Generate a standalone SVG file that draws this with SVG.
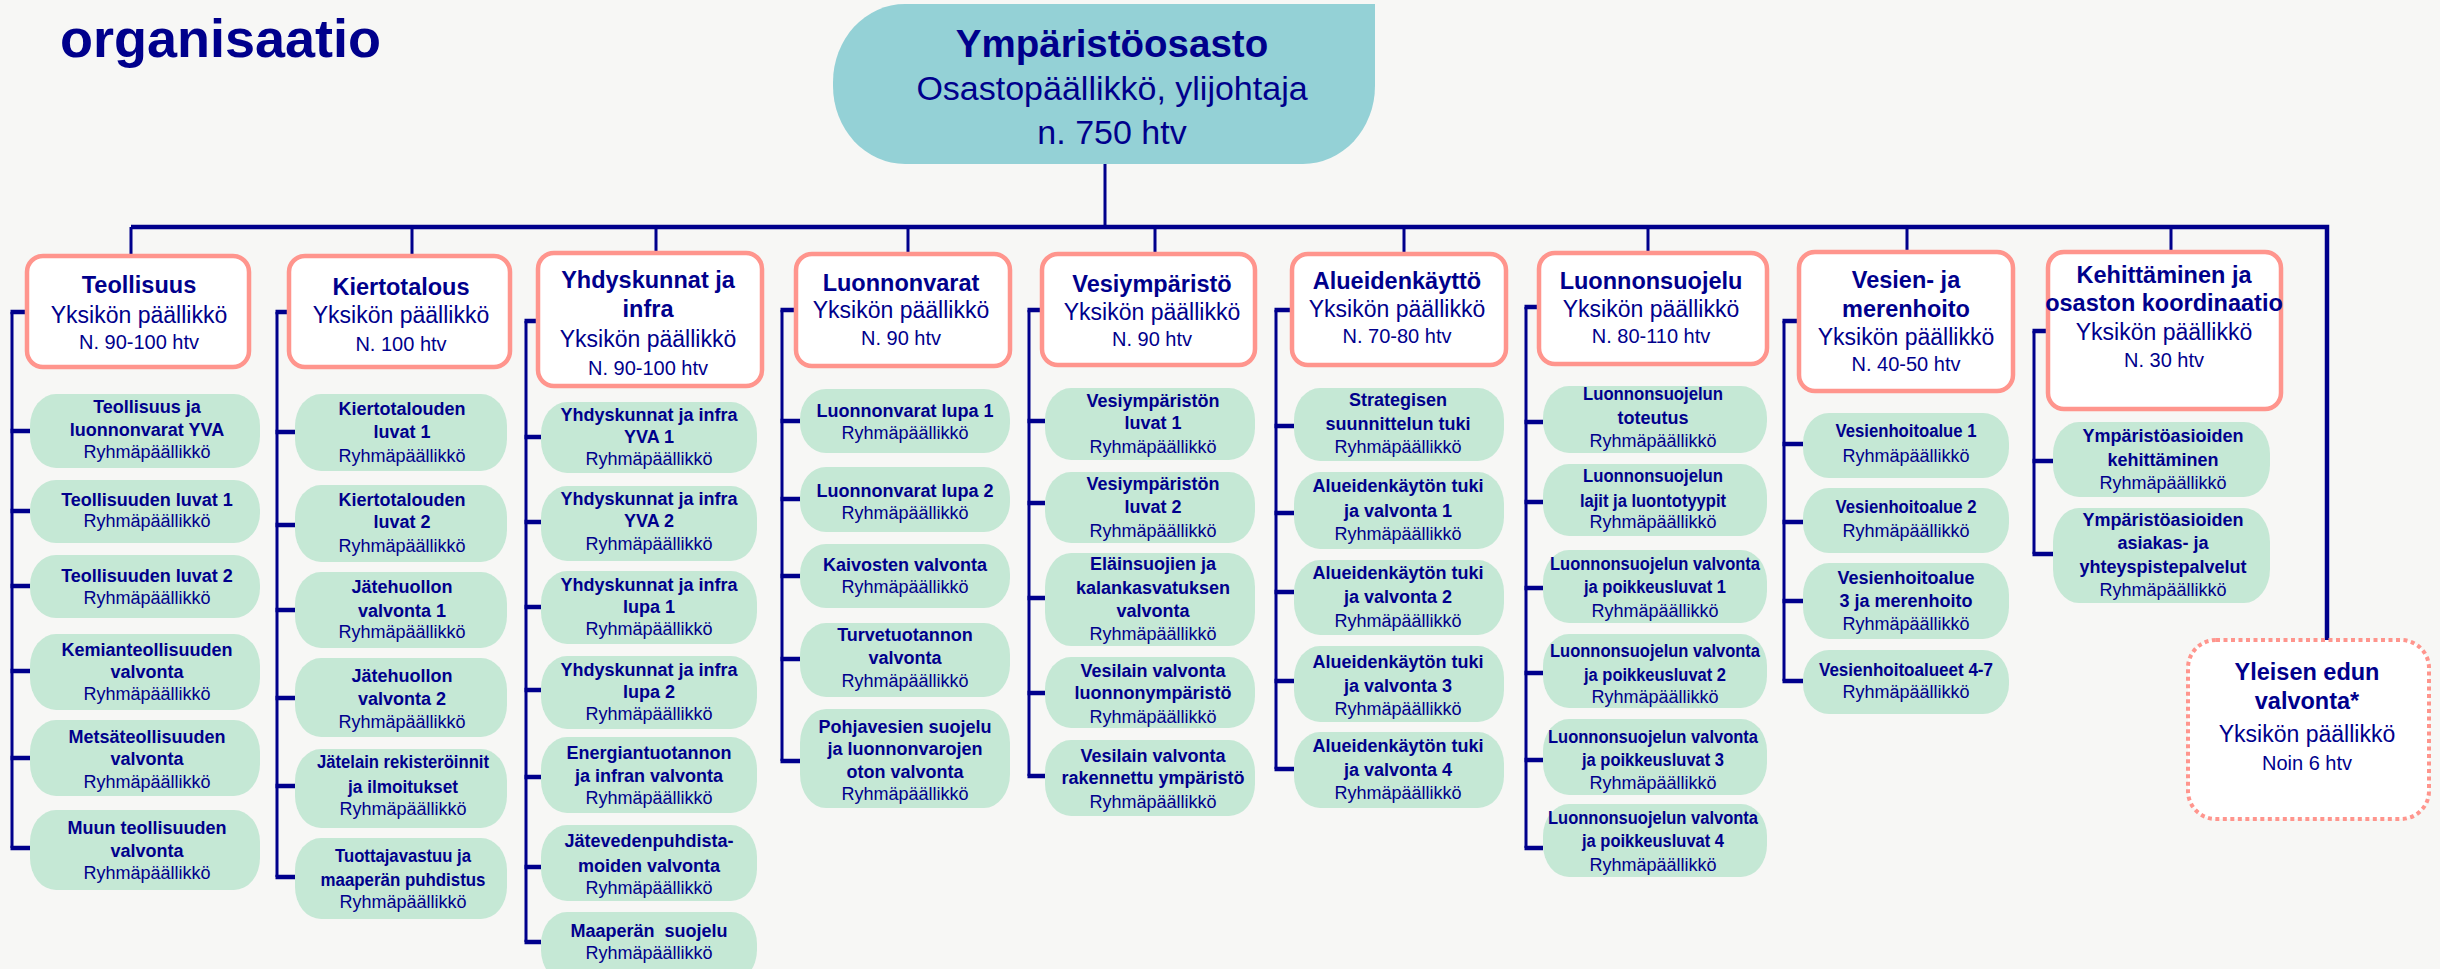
<svg xmlns="http://www.w3.org/2000/svg" width="2440" height="969" viewBox="0 0 2440 969">
<style>
.bg{fill:#f7f7f5}
.top{fill:#94d1d6}
.u{fill:#fff;stroke:#ff958d;stroke-width:4.5}
.d{fill:#fff;stroke:#ff958d;stroke-width:4;stroke-dasharray:4 3.5}
.c{fill:#c5e8d5}
text{font-family:"Liberation Sans",Arial,sans-serif;fill:#00008c;text-anchor:middle}
.title{font-size:54px;font-weight:700;text-anchor:start}
.t1{font-size:38.5px;font-weight:700}
.t2{font-size:34px}
.b{font-size:18px;font-weight:700}
.r{font-size:18px}
.ut{font-size:23.5px;font-weight:700}
.us{font-size:23px}
.uh{font-size:20px}
.ln{fill:none;stroke:#00008c}
.bar{stroke-width:4.5}
.v{stroke-width:3}
.s{stroke-width:4.5}
</style>
<rect class="bg" x="0" y="0" width="2440" height="969"/>
<text class="title" x="60" y="57">organisaatio</text>

<g id="connectors">
<path class="ln bar" d="M131,227H2327V640"/>
<path class="ln v" d="M1105,164V227 M131,227V256 M412,227V256 M656,227V253 M908,227V254 M1155,227V254 M1404,227V254 M1648,227V253 M1907,227V252 M2171,227V252"/>
<path class="ln v" d="M12,312V848 M277,312V877 M526,321V942 M782,310V761 M1029,310V776 M1276,310V769 M1526,307V848 M1784,321V681 M2034,331V554"/>
<path class="ln s" d="M10.5,312H27 M10.5,431H30 M10.5,511H30 M10.5,586H30 M10.5,671H30 M10.5,758H30 M10.5,848H30"/>
<path class="ln s" d="M275.5,312H289 M275.5,432H295 M275.5,525H295 M275.5,610H295 M275.5,698H295 M275.5,786H295 M275.5,877H295"/>
<path class="ln s" d="M524.5,321H538 M524.5,437H541 M524.5,522H541 M524.5,607H541 M524.5,690H541 M524.5,777H541 M524.5,867H541 M524.5,942H541"/>
<path class="ln s" d="M780.5,310H796 M780.5,421H800 M780.5,499H800 M780.5,576H800 M780.5,659H800 M780.5,761H800"/>
<path class="ln s" d="M1027.5,310H1042 M1027.5,421H1045 M1027.5,503H1045 M1027.5,598H1045 M1027.5,693H1045 M1027.5,776H1045"/>
<path class="ln s" d="M1274.5,310H1292 M1274.5,426H1294 M1274.5,513H1294 M1274.5,592H1294 M1274.5,681H1294 M1274.5,769H1294"/>
<path class="ln s" d="M1524.5,307H1539 M1524.5,422H1543 M1524.5,502H1543 M1524.5,588H1543 M1524.5,673H1543 M1524.5,760H1543 M1524.5,848H1543"/>
<path class="ln s" d="M1782.5,321H1799 M1782.5,444H1803 M1782.5,522H1803 M1782.5,601H1803 M1782.5,681H1803"/>
<path class="ln s" d="M2032.5,331H2048 M2032.5,461H2053 M2032.5,554H2053"/>
</g>

<g id="osasto">
<path class="top" d="M905,4H1375V86A72,78 0 0 1 1303,164H905A72,78 0 0 1 833,86V82A72,78 0 0 1 905,4Z"/>
<text class="t1" x="1112" y="57">Ympäristöosasto</text>
<text class="t2" x="1112" y="100">Osastopäällikkö, ylijohtaja</text>
<text class="t2" x="1112" y="144">n. 750 htv</text>
</g>

<g id="u-teollisuus">
<rect class="u" x="27" y="256" width="222" height="111" rx="16"/>
<text class="ut" x="139" y="293">Teollisuus</text>
<text class="us" x="139" y="323">Yksikön päällikkö</text>
<text class="uh" x="139" y="349">N. 90-100 htv</text>
</g>
<g id="u-kiertotalous">
<rect class="u" x="289" y="256" width="221" height="111" rx="16"/>
<text class="ut" x="401" y="295">Kiertotalous</text>
<text class="us" x="401" y="323">Yksikön päällikkö</text>
<text class="uh" x="401" y="351">N. 100 htv</text>
</g>
<g id="u-yhdyskunnat">
<rect class="u" x="538" y="253" width="224" height="133" rx="16"/>
<text class="ut" x="648" y="288">Yhdyskunnat ja</text>
<text class="ut" x="648" y="317">infra</text>
<text class="us" x="648" y="347">Yksikön päällikkö</text>
<text class="uh" x="648" y="375">N. 90-100 htv</text>
</g>
<g id="u-luonnonvarat">
<rect class="u" x="796" y="254" width="214" height="112" rx="16"/>
<text class="ut" x="901" y="291">Luonnonvarat</text>
<text class="us" x="901" y="318">Yksikön päällikkö</text>
<text class="uh" x="901" y="345">N. 90 htv</text>
</g>
<g id="u-vesiymparisto">
<rect class="u" x="1042" y="254" width="213" height="111" rx="16"/>
<text class="ut" x="1152" y="292">Vesiympäristö</text>
<text class="us" x="1152" y="320">Yksikön päällikkö</text>
<text class="uh" x="1152" y="346">N. 90 htv</text>
</g>
<g id="u-alueidenkaytto">
<rect class="u" x="1292" y="254" width="214" height="111" rx="16"/>
<text class="ut" x="1397" y="289">Alueidenkäyttö</text>
<text class="us" x="1397" y="317">Yksikön päällikkö</text>
<text class="uh" x="1397" y="343">N. 70-80 htv</text>
</g>
<g id="u-luonnonsuojelu">
<rect class="u" x="1539" y="253" width="228" height="111" rx="16"/>
<text class="ut" x="1651" y="289">Luonnonsuojelu</text>
<text class="us" x="1651" y="317">Yksikön päällikkö</text>
<text class="uh" x="1651" y="343">N. 80-110 htv</text>
</g>
<g id="u-vesienhoito">
<rect class="u" x="1799" y="252" width="214" height="139" rx="16"/>
<text class="ut" x="1906" y="288">Vesien- ja</text>
<text class="ut" x="1906" y="317">merenhoito</text>
<text class="us" x="1906" y="345">Yksikön päällikkö</text>
<text class="uh" x="1906" y="371">N. 40-50 htv</text>
</g>
<g id="u-kehittaminen">
<rect class="u" x="2048" y="252" width="233" height="157" rx="16"/>
<text class="ut" x="2164" y="283">Kehittäminen ja</text>
<text class="ut" x="2164" y="311">osaston koordinaatio</text>
<text class="us" x="2164" y="340">Yksikön päällikkö</text>
<text class="uh" x="2164" y="367">N. 30 htv</text>
</g>
<g id="u-yleisen-edun">
<rect class="d" x="2188" y="640" width="241" height="179" rx="28"/>
<text class="ut" x="2307" y="680">Yleisen edun</text>
<text class="ut" x="2307" y="709">valvonta*</text>
<text class="us" x="2307" y="742">Yksikön päällikkö</text>
<text class="uh" x="2307" y="770">Noin 6 htv</text>
</g>

<g id="teo-1"><rect class="c" x="30" y="394" width="230" height="74" rx="26" ry="32"/>
<text class="b" x="147" y="413">Teollisuus ja</text><text class="b" x="147" y="436">luonnonvarat YVA</text><text class="r" x="147" y="458">Ryhmäpäällikkö</text></g>
<g id="teo-2"><rect class="c" x="30" y="480" width="230" height="63" rx="26" ry="30"/>
<text class="b" x="147" y="506">Teollisuuden luvat 1</text><text class="r" x="147" y="527">Ryhmäpäällikkö</text></g>
<g id="teo-3"><rect class="c" x="30" y="555" width="230" height="63" rx="26" ry="30"/>
<text class="b" x="147" y="582">Teollisuuden luvat 2</text><text class="r" x="147" y="604">Ryhmäpäällikkö</text></g>
<g id="teo-4"><rect class="c" x="30" y="634" width="230" height="76" rx="26" ry="32"/>
<text class="b" x="147" y="656">Kemianteollisuuden</text><text class="b" x="147" y="678">valvonta</text><text class="r" x="147" y="700">Ryhmäpäällikkö</text></g>
<g id="teo-5"><rect class="c" x="30" y="720" width="230" height="76" rx="26" ry="32"/>
<text class="b" x="147" y="743">Metsäteollisuuden</text><text class="b" x="147" y="765">valvonta</text><text class="r" x="147" y="788">Ryhmäpäällikkö</text></g>
<g id="teo-6"><rect class="c" x="30" y="810" width="230" height="80" rx="26" ry="32"/>
<text class="b" x="147" y="834">Muun teollisuuden</text><text class="b" x="147" y="857">valvonta</text><text class="r" x="147" y="879">Ryhmäpäällikkö</text></g>

<g id="kie-1"><rect class="c" x="295" y="394" width="212" height="77" rx="26" ry="32"/>
<text class="b" x="402" y="415">Kiertotalouden</text><text class="b" x="402" y="438">luvat 1</text><text class="r" x="402" y="462">Ryhmäpäällikkö</text></g>
<g id="kie-2"><rect class="c" x="295" y="485" width="212" height="77" rx="26" ry="32"/>
<text class="b" x="402" y="506">Kiertotalouden</text><text class="b" x="402" y="528">luvat 2</text><text class="r" x="402" y="552">Ryhmäpäällikkö</text></g>
<g id="kie-3"><rect class="c" x="295" y="572" width="212" height="76" rx="26" ry="32"/>
<text class="b" x="402" y="593">Jätehuollon</text><text class="b" x="402" y="617">valvonta 1</text><text class="r" x="402" y="638">Ryhmäpäällikkö</text></g>
<g id="kie-4"><rect class="c" x="295" y="658" width="212" height="79" rx="26" ry="32"/>
<text class="b" x="402" y="682">Jätehuollon</text><text class="b" x="402" y="705">valvonta 2</text><text class="r" x="402" y="728">Ryhmäpäällikkö</text></g>
<g id="kie-5"><rect class="c" x="295" y="749" width="212" height="79" rx="26" ry="32"/>
<text class="b" x="403" y="768" textLength="172" lengthAdjust="spacingAndGlyphs">Jätelain rekisteröinnit</text><text class="b" x="403" y="793" textLength="110" lengthAdjust="spacingAndGlyphs">ja ilmoitukset</text><text class="r" x="403" y="815">Ryhmäpäällikkö</text></g>
<g id="kie-6"><rect class="c" x="295" y="838" width="212" height="81" rx="26" ry="32"/>
<text class="b" x="403" y="862" textLength="136" lengthAdjust="spacingAndGlyphs">Tuottajavastuu ja</text><text class="b" x="403" y="886" textLength="165" lengthAdjust="spacingAndGlyphs">maaperän puhdistus</text><text class="r" x="403" y="908">Ryhmäpäällikkö</text></g>

<g id="yhd-1"><rect class="c" x="541" y="402" width="216" height="71" rx="26" ry="32"/>
<text class="b" x="649" y="421">Yhdyskunnat ja infra</text><text class="b" x="649" y="443">YVA 1</text><text class="r" x="649" y="465">Ryhmäpäällikkö</text></g>
<g id="yhd-2"><rect class="c" x="541" y="486" width="216" height="75" rx="26" ry="32"/>
<text class="b" x="649" y="505">Yhdyskunnat ja infra</text><text class="b" x="649" y="527">YVA 2</text><text class="r" x="649" y="550">Ryhmäpäällikkö</text></g>
<g id="yhd-3"><rect class="c" x="541" y="571" width="216" height="73" rx="26" ry="32"/>
<text class="b" x="649" y="591">Yhdyskunnat ja infra</text><text class="b" x="649" y="613">lupa 1</text><text class="r" x="649" y="635">Ryhmäpäällikkö</text></g>
<g id="yhd-4"><rect class="c" x="541" y="656" width="216" height="73" rx="26" ry="32"/>
<text class="b" x="649" y="676">Yhdyskunnat ja infra</text><text class="b" x="649" y="698">lupa 2</text><text class="r" x="649" y="720">Ryhmäpäällikkö</text></g>
<g id="yhd-5"><rect class="c" x="541" y="737" width="216" height="76" rx="26" ry="32"/>
<text class="b" x="649" y="759">Energiantuotannon</text><text class="b" x="649" y="782">ja infran valvonta</text><text class="r" x="649" y="804">Ryhmäpäällikkö</text></g>
<g id="yhd-6"><rect class="c" x="541" y="825" width="216" height="76" rx="26" ry="32"/>
<text class="b" x="649" y="847">Jätevedenpuhdista-</text><text class="b" x="649" y="872">moiden valvonta</text><text class="r" x="649" y="894">Ryhmäpäällikkö</text></g>
<g id="yhd-7"><rect class="c" x="541" y="912" width="216" height="70" rx="26" ry="32"/>
<text class="b" x="649" y="937" style="white-space:pre">Maaperän  suojelu</text><text class="r" x="649" y="959">Ryhmäpäällikkö</text></g>

<g id="lva-1"><rect class="c" x="800" y="389" width="210" height="64" rx="26" ry="30"/>
<text class="b" x="905" y="417">Luonnonvarat lupa 1</text><text class="r" x="905" y="439">Ryhmäpäällikkö</text></g>
<g id="lva-2"><rect class="c" x="800" y="467" width="210" height="65" rx="26" ry="30"/>
<text class="b" x="905" y="497">Luonnonvarat lupa 2</text><text class="r" x="905" y="519">Ryhmäpäällikkö</text></g>
<g id="lva-3"><rect class="c" x="800" y="544" width="210" height="64" rx="26" ry="30"/>
<text class="b" x="905" y="571">Kaivosten valvonta</text><text class="r" x="905" y="593">Ryhmäpäällikkö</text></g>
<g id="lva-4"><rect class="c" x="800" y="623" width="210" height="74" rx="26" ry="32"/>
<text class="b" x="905" y="641">Turvetuotannon</text><text class="b" x="905" y="664">valvonta</text><text class="r" x="905" y="687">Ryhmäpäällikkö</text></g>
<g id="lva-5"><rect class="c" x="800" y="709" width="210" height="99" rx="26" ry="34"/>
<text class="b" x="905" y="733">Pohjavesien suojelu</text><text class="b" x="905" y="755">ja luonnonvarojen</text><text class="b" x="905" y="778">oton valvonta</text><text class="r" x="905" y="800">Ryhmäpäällikkö</text></g>

<g id="ves-1"><rect class="c" x="1045" y="388" width="210" height="72" rx="26" ry="32"/>
<text class="b" x="1153" y="407">Vesiympäristön</text><text class="b" x="1153" y="429">luvat 1</text><text class="r" x="1153" y="453">Ryhmäpäällikkö</text></g>
<g id="ves-2"><rect class="c" x="1045" y="472" width="210" height="71" rx="26" ry="32"/>
<text class="b" x="1153" y="490">Vesiympäristön</text><text class="b" x="1153" y="513">luvat 2</text><text class="r" x="1153" y="537">Ryhmäpäällikkö</text></g>
<g id="ves-3"><rect class="c" x="1045" y="553" width="210" height="93" rx="26" ry="34"/>
<text class="b" x="1153" y="570">Eläinsuojien ja</text><text class="b" x="1153" y="594">kalankasvatuksen</text><text class="b" x="1153" y="617">valvonta</text><text class="r" x="1153" y="640">Ryhmäpäällikkö</text></g>
<g id="ves-4"><rect class="c" x="1045" y="657" width="210" height="71" rx="26" ry="32"/>
<text class="b" x="1153" y="677">Vesilain valvonta</text><text class="b" x="1153" y="699">luonnonympäristö</text><text class="r" x="1153" y="723">Ryhmäpäällikkö</text></g>
<g id="ves-5"><rect class="c" x="1045" y="740" width="210" height="76" rx="26" ry="32"/>
<text class="b" x="1153" y="762">Vesilain valvonta</text><text class="b" x="1153" y="784">rakennettu ympäristö</text><text class="r" x="1153" y="808">Ryhmäpäällikkö</text></g>

<g id="alu-1"><rect class="c" x="1294" y="388" width="210" height="73" rx="26" ry="32"/>
<text class="b" x="1398" y="406">Strategisen</text><text class="b" x="1398" y="430">suunnittelun tuki</text><text class="r" x="1398" y="453">Ryhmäpäällikkö</text></g>
<g id="alu-2"><rect class="c" x="1294" y="472" width="210" height="77" rx="26" ry="32"/>
<text class="b" x="1398" y="492">Alueidenkäytön tuki</text><text class="b" x="1398" y="517">ja valvonta 1</text><text class="r" x="1398" y="540">Ryhmäpäällikkö</text></g>
<g id="alu-3"><rect class="c" x="1294" y="560" width="210" height="75" rx="26" ry="32"/>
<text class="b" x="1398" y="579">Alueidenkäytön tuki</text><text class="b" x="1398" y="603">ja valvonta 2</text><text class="r" x="1398" y="627">Ryhmäpäällikkö</text></g>
<g id="alu-4"><rect class="c" x="1294" y="646" width="210" height="76" rx="26" ry="32"/>
<text class="b" x="1398" y="668">Alueidenkäytön tuki</text><text class="b" x="1398" y="692">ja valvonta 3</text><text class="r" x="1398" y="715">Ryhmäpäällikkö</text></g>
<g id="alu-5"><rect class="c" x="1294" y="732" width="210" height="76" rx="26" ry="32"/>
<text class="b" x="1398" y="752">Alueidenkäytön tuki</text><text class="b" x="1398" y="776">ja valvonta 4</text><text class="r" x="1398" y="799">Ryhmäpäällikkö</text></g>

<g id="lsu-1"><rect class="c" x="1543" y="386" width="224" height="67" rx="26" ry="32"/>
<text class="b" x="1653" y="400" textLength="140" lengthAdjust="spacingAndGlyphs">Luonnonsuojelun</text><text class="b" x="1653" y="424">toteutus</text><text class="r" x="1653" y="447">Ryhmäpäällikkö</text></g>
<g id="lsu-2"><rect class="c" x="1543" y="464" width="224" height="72" rx="26" ry="32"/>
<text class="b" x="1653" y="482" textLength="140" lengthAdjust="spacingAndGlyphs">Luonnonsuojelun</text><text class="b" x="1653" y="507" textLength="146" lengthAdjust="spacingAndGlyphs">lajit ja luontotyypit</text><text class="r" x="1653" y="528">Ryhmäpäällikkö</text></g>
<g id="lsu-3"><rect class="c" x="1543" y="550" width="224" height="73" rx="26" ry="32"/>
<text class="b" x="1655" y="570" textLength="210" lengthAdjust="spacingAndGlyphs">Luonnonsuojelun valvonta</text><text class="b" x="1655" y="593" textLength="142" lengthAdjust="spacingAndGlyphs">ja poikkeusluvat 1</text><text class="r" x="1655" y="617">Ryhmäpäällikkö</text></g>
<g id="lsu-4"><rect class="c" x="1543" y="634" width="224" height="74" rx="26" ry="32"/>
<text class="b" x="1655" y="657" textLength="210" lengthAdjust="spacingAndGlyphs">Luonnonsuojelun valvonta</text><text class="b" x="1655" y="681" textLength="142" lengthAdjust="spacingAndGlyphs">ja poikkeusluvat 2</text><text class="r" x="1655" y="703">Ryhmäpäällikkö</text></g>
<g id="lsu-5"><rect class="c" x="1543" y="719" width="224" height="76" rx="26" ry="32"/>
<text class="b" x="1653" y="743" textLength="210" lengthAdjust="spacingAndGlyphs">Luonnonsuojelun valvonta</text><text class="b" x="1653" y="766" textLength="142" lengthAdjust="spacingAndGlyphs">ja poikkeusluvat 3</text><text class="r" x="1653" y="789">Ryhmäpäällikkö</text></g>
<g id="lsu-6"><rect class="c" x="1543" y="804" width="224" height="73" rx="26" ry="32"/>
<text class="b" x="1653" y="824" textLength="210" lengthAdjust="spacingAndGlyphs">Luonnonsuojelun valvonta</text><text class="b" x="1653" y="847" textLength="142" lengthAdjust="spacingAndGlyphs">ja poikkeusluvat 4</text><text class="r" x="1653" y="871">Ryhmäpäällikkö</text></g>

<g id="vmh-1"><rect class="c" x="1803" y="413" width="206" height="65" rx="26" ry="30"/>
<text class="b" x="1906" y="437" textLength="141" lengthAdjust="spacingAndGlyphs">Vesienhoitoalue 1</text><text class="r" x="1906" y="462">Ryhmäpäällikkö</text></g>
<g id="vmh-2"><rect class="c" x="1803" y="488" width="206" height="65" rx="26" ry="30"/>
<text class="b" x="1906" y="513" textLength="141" lengthAdjust="spacingAndGlyphs">Vesienhoitoalue 2</text><text class="r" x="1906" y="537">Ryhmäpäällikkö</text></g>
<g id="vmh-3"><rect class="c" x="1803" y="563" width="206" height="76" rx="26" ry="32"/>
<text class="b" x="1906" y="584">Vesienhoitoalue</text><text class="b" x="1906" y="607">3 ja merenhoito</text><text class="r" x="1906" y="630">Ryhmäpäällikkö</text></g>
<g id="vmh-4"><rect class="c" x="1803" y="650" width="206" height="64" rx="26" ry="30"/>
<text class="b" x="1906" y="676" textLength="174" lengthAdjust="spacingAndGlyphs">Vesienhoitoalueet 4-7</text><text class="r" x="1906" y="698">Ryhmäpäällikkö</text></g>

<g id="keh-1"><rect class="c" x="2053" y="422" width="217" height="75" rx="26" ry="32"/>
<text class="b" x="2163" y="442">Ympäristöasioiden</text><text class="b" x="2163" y="466">kehittäminen</text><text class="r" x="2163" y="489">Ryhmäpäällikkö</text></g>
<g id="keh-2"><rect class="c" x="2053" y="508" width="217" height="95" rx="26" ry="34"/>
<text class="b" x="2163" y="526">Ympäristöasioiden</text><text class="b" x="2163" y="549">asiakas- ja</text><text class="b" x="2163" y="573">yhteyspistepalvelut</text><text class="r" x="2163" y="596">Ryhmäpäällikkö</text></g>
</svg>
